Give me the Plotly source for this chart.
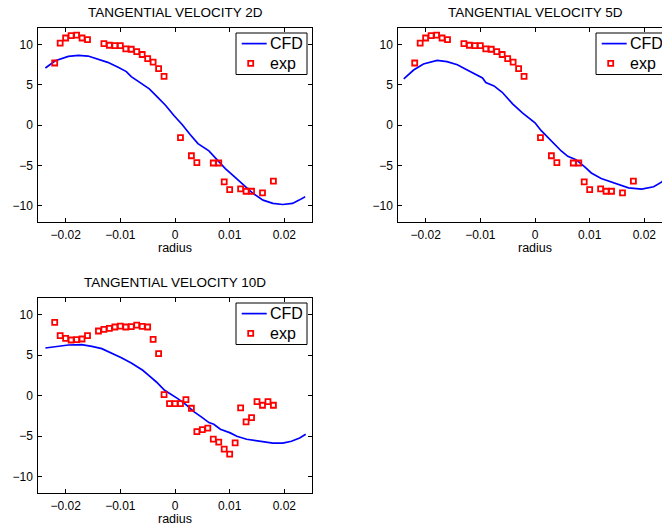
import plotly.graph_objects as go

# ---------------- data ----------------
titles = ["TANGENTIAL VELOCITY 2D", "TANGENTIAL VELOCITY 5D", "TANGENTIAL VELOCITY 10D"]
x_label = "radius"
legend_labels = ["CFD", "exp"]
radius_ticks = [-0.02, -0.01, 0, 0.01, 0.02]
velocity_ticks = [-10, -5, 0, 5, 10]

# CFD curves
cfd_x_2d = [-0.0237, -0.0219, -0.0195, -0.0177, -0.0159, -0.0141, -0.0123, -0.0104,
            -0.0089, -0.0080, -0.0062, -0.0047, -0.0032, -0.0017, -0.0002, 0.0013,
            0.0028, 0.0042, 0.0062, 0.0077, 0.0092, 0.0107, 0.0125, 0.0143, 0.0161,
            0.0179, 0.0197, 0.0215, 0.0227, 0.0238]
cfd_y_2d = [7.08, 7.98, 8.52, 8.64, 8.56, 8.19, 7.78, 7.16,
            6.63, 6.00, 5.19, 4.49, 3.46, 2.43, 1.19, 0.08,
            -1.19, -2.30, -3.20, -4.28, -5.39, -6.30, -7.37, -8.48, -9.30,
            -9.71, -9.84, -9.71, -9.30, -8.89]

cfd_x_5d = [-0.0240, -0.0222, -0.0204, -0.0179, -0.0161, -0.0142, -0.0124, -0.0106,
            -0.0096, -0.0090, -0.0075, -0.0060, -0.0041, -0.0023, -0.0010, 0.0000,
            0.0011, 0.0029, 0.0048, 0.0060, 0.0075, 0.0091, 0.0103, 0.0121, 0.0146,
            0.0171, 0.0195, 0.0217, 0.0232, 0.0240]
cfd_y_5d = [5.72, 6.83, 7.57, 8.02, 7.86, 7.49, 6.83, 6.13,
            5.84, 5.27, 4.86, 4.07, 2.63, 1.52, 0.78, 0.29,
            -0.66, -1.89, -3.21, -3.87, -4.28, -5.19, -5.93, -6.63, -7.24,
            -7.78, -7.94, -7.65, -7.04, -6.40]

cfd_x_10d = [-0.0237, -0.0219, -0.0195, -0.0171, -0.0152, -0.0134, -0.0116, -0.0098,
             -0.0080, -0.0059, -0.0047, -0.0034, -0.0019, -0.0007, 0.0005, 0.0020,
             0.0035, 0.0050, 0.0062, 0.0071, 0.0083, 0.0101, 0.0113, 0.0131, 0.0155,
             0.0179, 0.0197, 0.0213, 0.0228, 0.0239]
cfd_y_10d = [5.87, 6.04, 6.24, 6.28, 6.08, 5.79, 5.26, 4.68,
             4.02, 3.12, 2.42, 1.68, 0.66, 0.16, -0.37, -1.11,
             -2.01, -2.71, -3.33, -3.53, -4.15, -4.60, -5.01, -5.38, -5.67,
             -5.87, -5.87, -5.63, -5.22, -4.76]

# experimental points
exp_x_2d = [-0.022, -0.021, -0.020, -0.019, -0.018, -0.017, -0.016,
            -0.013, -0.012, -0.011, -0.010, -0.009, -0.008, -0.007, -0.006,
            -0.005, -0.004, -0.003, -0.002,
            0.001, 0.003, 0.004, 0.007, 0.008, 0.009, 0.010, 0.012, 0.013,
            0.014, 0.016, 0.018]
exp_y_2d = [7.70, 10.16, 10.80, 11.10, 11.15, 10.80, 10.60,
            10.10, 9.90, 9.85, 9.85, 9.45, 9.40, 9.10, 8.75,
            8.25, 7.80, 7.00, 6.05,
            -1.55, -3.80, -4.65, -4.70, -4.70, -7.05, -8.00, -7.90, -8.20,
            -8.20, -8.40, -6.95]

exp_x_5d = [-0.022, -0.021, -0.020, -0.019, -0.018, -0.017, -0.016,
            -0.013, -0.012, -0.011, -0.010, -0.009, -0.008, -0.007, -0.006,
            -0.005, -0.004, -0.003, -0.002,
            0.001, 0.003, 0.004, 0.007, 0.008, 0.009, 0.010, 0.012, 0.013,
            0.014, 0.016, 0.018]
exp_y_5d = [7.70, 10.16, 10.80, 11.10, 11.15, 10.80, 10.60,
            10.10, 9.90, 9.85, 9.85, 9.45, 9.40, 9.10, 8.75,
            8.25, 7.80, 7.00, 6.05,
            -1.55, -3.80, -4.65, -4.70, -4.70, -7.05, -8.00, -7.90, -8.20,
            -8.20, -8.40, -6.95]

exp_x_10d = [-0.022, -0.021, -0.020, -0.019, -0.018, -0.017, -0.016,
             -0.014, -0.013, -0.012, -0.011, -0.010, -0.009, -0.008, -0.007,
             -0.006, -0.005, -0.004, -0.003, -0.002, -0.001, 0.000, 0.001,
             0.002, 0.003, 0.004, 0.005, 0.006, 0.007, 0.008, 0.009, 0.010,
             0.011, 0.012, 0.013, 0.014, 0.015, 0.016, 0.017, 0.018]
exp_y_10d = [9.03, 7.39, 7.06, 6.86, 6.90, 6.98, 7.39,
             7.97, 8.17, 8.30, 8.46, 8.58, 8.46, 8.50, 8.70,
             8.54, 8.46, 6.94, 5.17, 0.12, -0.99, -0.99, -0.99,
             -0.49, -1.56, -4.44, -4.19, -4.02, -5.38, -5.75, -6.61, -7.23,
             -5.83, -1.52, -3.24, -2.71, -0.74, -1.19, -0.74, -1.19]

# ---------------- layout helpers ----------------
W, H = 662, 527
FONT = "Liberation Sans, Arial, Helvetica, sans-serif"
BLUE = "#0000ff"
RED = "#ff0000"


def px(x):
    return x / W


def py(y):
    return 1 - y / H


# panel boxes in pixels (left, right, top, bottom); panel 2 runs past the page edge
panels = [
    dict(L=38.3, R=311.7, T=28.3, B=221.9),
    dict(L=398.3, R=671.7, T=28.3, B=221.9),
    dict(L=38.3, R=311.7, T=298.3, B=492.9),
]
xr_full = [-0.025, 0.025]

series = [
    (cfd_x_2d, cfd_y_2d, exp_x_2d, exp_y_2d),
    (cfd_x_5d, cfd_y_5d, exp_x_5d, exp_y_5d),
    (cfd_x_10d, cfd_y_10d, exp_x_10d, exp_y_10d),
]

fig = go.Figure()
shapes = []
annotations = []

for i, (p, (cx, cy, ex, ey)) in enumerate(zip(panels, series)):
    n = "" if i == 0 else str(i + 1)
    xa, ya = "x" + n, "y" + n
    fig.add_trace(go.Scatter(x=cx, y=cy, mode="lines", name=legend_labels[0],
                             line=dict(color=BLUE, width=1.7), showlegend=False,
                             xaxis=xa, yaxis=ya, cliponaxis=True))
    fig.add_trace(go.Scatter(x=ex, y=ey, mode="markers", name=legend_labels[1],
                             marker=dict(symbol="square-open", size=5, color=RED,
                                         line=dict(width=1.8, color=RED)),
                             showlegend=False, xaxis=xa, yaxis=ya))

    right_px = min(p["R"], W)
    xmax = xr_full[0] + (xr_full[1] - xr_full[0]) * (right_px - p["L"]) / (p["R"] - p["L"])
    common = dict(showline=True, linecolor="black", linewidth=1, ticks="inside",
                  ticklen=4, tickcolor="black", tickwidth=1, showgrid=False,
                  zeroline=False, tickfont=dict(family=FONT, size=12, color="black"))
    fig.layout["xaxis" + n] = dict(
        common, domain=[px(p["L"]), px(right_px)], range=[xr_full[0], xmax],
        anchor=ya, tickvals=radius_ticks, ticktext=["\u22120.02", "\u22120.01", "0", "0.01", "0.02"],
        mirror="ticks", ticklabelstandoff=2)
    fig.layout["yaxis" + n] = dict(
        common, domain=[py(p["B"]), py(p["T"])], range=[-12, 12],
        anchor=xa, tickvals=velocity_ticks,
        ticktext=["\u221210", "\u22125", "0", "5", "10"],
        mirror=("ticks" if p["R"] <= W else False), ticklabelstandoff=2)

    cxm = (p["L"] + p["R"]) / 2
    annotations.append(dict(text=titles[i], x=px(cxm), y=py(p["T"] - 16.3), xref="paper",
                            yref="paper", xanchor="center", yanchor="middle",
                            showarrow=False, font=dict(family=FONT, size=13.5, color="black")))
    annotations.append(dict(text=x_label, x=px(cxm), y=py(p["B"] + 26.3), xref="paper",
                            yref="paper", xanchor="center", yanchor="middle",
                            showarrow=False, font=dict(family=FONT, size=12.5, color="black")))

    # legend box (drawn like MATLAB's)
    R, T = p["R"], p["T"]
    shapes.append(dict(type="rect", xref="paper", yref="paper",
                       x0=px(R - 75.7), x1=px(R - 4.7), y0=py(T + 46.2), y1=py(T + 4.7),
                       line=dict(color="black", width=1), fillcolor="white", layer="above"))
    shapes.append(dict(type="line", xref="paper", yref="paper",
                       x0=px(R - 70), x1=px(R - 45), y0=py(T + 15.3), y1=py(T + 15.3),
                       line=dict(color=BLUE, width=1.7), layer="above"))
    mx, my = R - 61, T + 35
    shapes.append(dict(type="rect", xref="paper", yref="paper",
                       x0=px(mx - 2.5), x1=px(mx + 2.5), y0=py(my + 2.5), y1=py(my - 2.5),
                       line=dict(color=RED, width=1.8), layer="above"))
    annotations.append(dict(text=legend_labels[0], x=px(R - 43.4), y=py(T + 15.1),
                            xref="paper", yref="paper", xanchor="left", yanchor="middle",
                            showarrow=False, font=dict(family=FONT, size=16, color="black")))
    annotations.append(dict(text=legend_labels[1], x=px(R - 43.4), y=py(T + 35.4),
                            xref="paper", yref="paper", xanchor="left", yanchor="middle",
                            showarrow=False, font=dict(family=FONT, size=16, color="black")))

fig.update_layout(width=W, height=H, margin=dict(l=0, r=0, t=0, b=0, pad=0, autoexpand=False),
                  paper_bgcolor="white", plot_bgcolor="white", showlegend=False,
                  shapes=shapes, annotations=annotations,
                  font=dict(family=FONT, color="black"))

fig.write_html("out.html")
